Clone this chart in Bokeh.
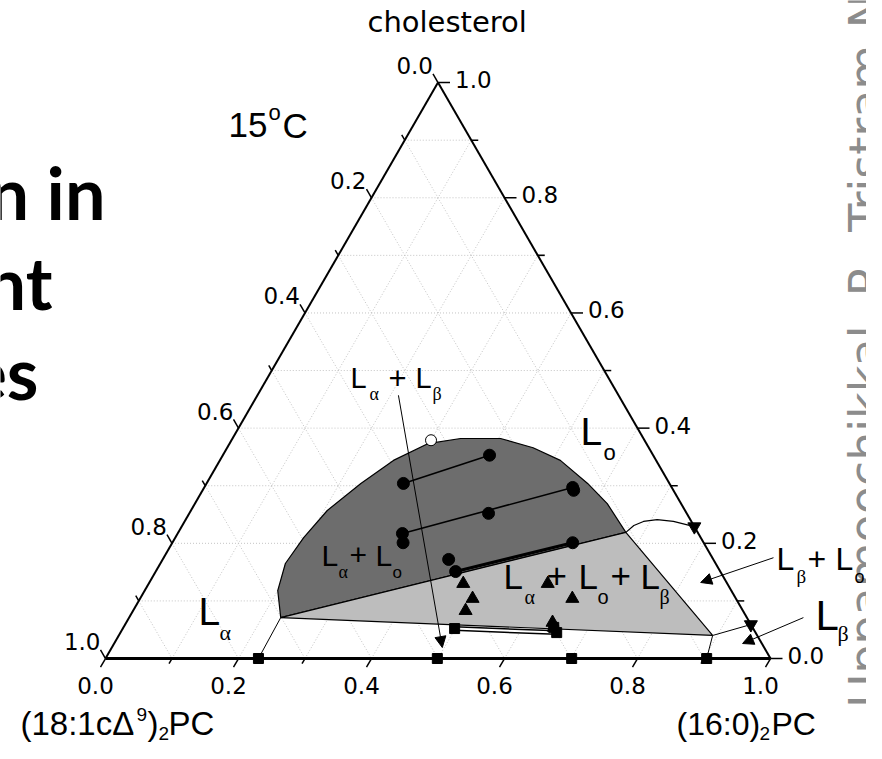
import numpy as np
from bokeh.plotting import figure
from bokeh.models import Range1d, Arrow, NormalHead, ColumnDataSource
from bokeh.embed import file_html
from bokeh.resources import INLINE
from bokeh.core.properties import value

# ---------------- data: mole fractions (cholesterol, (16:0)2PC) ----------------
# La + Lo coexistence boundary (dark region), from lower 3-phase vertex over the dome to upper vertex
lalo_chol = [0.071, 0.118, 0.165, 0.210, 0.257, 0.304, 0.344, 0.373, 0.382, 0.382, 0.366, 0.344, 0.304, 0.269, 0.219]
lalo_dppc = [0.228, 0.200, 0.188, 0.193, 0.205, 0.232, 0.261, 0.298, 0.343, 0.403, 0.460, 0.512, 0.573, 0.620, 0.673]
# La + Lo + Lb three-phase triangle
three_chol = [0.071, 0.219, 0.040]
three_dppc = [0.228, 0.673, 0.893]
# Lb + Lo boundary curve
lblo_chol = [0.219, 0.231, 0.238, 0.241, 0.238, 0.229]
lblo_dppc = [0.673, 0.679, 0.690, 0.709, 0.735, 0.771]
# thin boundary lines (La + Lb region and Lb region)
bnd1_chol = [0.071, 0.0]
bnd1_dppc = [0.228, 0.230]
bnd2_chol = [0.040, 0.0]
bnd2_dppc = [0.893, 0.904]
bnd3_chol = [0.040, 0.059]
bnd3_dppc = [0.893, 0.941]
# tie lines
tie1_chol = [0.304, 0.353]
tie1_dppc = [0.296, 0.401]
tie2_chol = [0.217, 0.297]
tie2_dppc = [0.338, 0.554]
tie3_chol = [0.151, 0.201]
tie3_dppc = [0.451, 0.602]
# filled circles
circ_chol = [0.304, 0.353, 0.217, 0.201, 0.252, 0.297, 0.292, 0.151, 0.172, 0.201]
circ_dppc = [0.296, 0.401, 0.338, 0.347, 0.450, 0.554, 0.558, 0.451, 0.430, 0.602]
# open circle
open_chol = [0.379]
open_dppc = [0.300]
# filled up triangles
tri_chol = [0.130, 0.104, 0.083, 0.130, 0.104, 0.0625, 0.054]
tri_dppc = [0.473, 0.500, 0.500, 0.600, 0.650, 0.641, 0.647]
# down triangles on the PC/cholesterol edge
dtri_chol = [0.229, 0.059]
dtri_dppc = [0.771, 0.941]
# squares on the binary axis and near the La+Lb tie line
sq_chol = [0.0, 0.0, 0.0, 0.0, 0.052, 0.045, 0.054]
sq_dppc = [0.230, 0.499, 0.701, 0.904, 0.499, 0.656, 0.647]
dbl_chol = [0.052, 0.045]
dbl_dppc = [0.499, 0.656]
# label arrows (tail -> head)
arr_chol0 = [0.457, 0.175, 0.071]
arr_dppc0 = [0.212, 0.917, 1.014]
arr_chol1 = [0.019, 0.132, 0.026]
arr_dppc1 = [0.497, 0.829, 0.945]
# axis ticks
tick_vals = [round(0.1 * i, 1) for i in range(11)]
tick_labels = ["0.0", "0.2", "0.4", "0.6", "0.8", "1.0"]

H = np.sqrt(3) / 2
PX = 1 / 665.0
W, HT = 866, 743


def cart(chol, dppc):
    c = np.asarray(chol, dtype=float)
    d = np.asarray(dppc, dtype=float)
    return d + c / 2, c * H


def S(sx, sy):
    # picture pixel -> data coordinates (for text placement)
    return (sx - 105) * PX, (658 - sy) * PX


p = figure(width=W, height=HT,
           x_range=Range1d(-105 * PX, (W - 105) * PX),
           y_range=Range1d((658 - HT) * PX, 658 * PX),
           output_backend="svg", toolbar_location=None, min_border=0,
           x_axis_location=None, y_axis_location=None)
p.xgrid.visible = False
p.ygrid.visible = False
p.outline_line_color = None
p.background_fill_color = "white"
p.border_fill_color = "white"


def put(s, sx, sy, size, font="Liberation Sans", align="left", style="normal",
        color="black", angle=0.0):
    # sy is the baseline in picture pixels; convert to the em-box middle
    if angle == 0.0:
        x, y = S(sx, sy - 0.35 * size)
    else:
        x, y = S(sx - 0.35 * size, sy)
    p.text([x], [y], text=[s], text_font=value(font), text_font_size=f"{size}px",
           text_align=align, text_baseline="middle", text_font_style=style,
           text_color=color, angle=angle)


# cut-off citation on the right (drawn first so the chart labels lie on top)
put("Uppamoochikkal, P., Tristram-Nagle, S.", 882, 707, 46, "DejaVu Sans", "left", "normal",
    "#8c8c8c", np.pi / 2)

# ---------------- grid ----------------
gx, gy = [], []
for v in tick_vals[1:-1]:
    x, y = cart([v, v], [0, 1 - v]); gx.append(list(x)); gy.append(list(y))
    x, y = cart([0, 1 - v], [v, v]); gx.append(list(x)); gy.append(list(y))
    x, y = cart([1 - v, 0], [0, 1 - v]); gx.append(list(x)); gy.append(list(y))
p.multi_line(gx, gy, line_color="#c4c4c4", line_width=1, line_dash="1 2")

# ---------------- regions ----------------
x, y = cart(lalo_chol, lalo_dppc)
p.patch(x, y, fill_color="#6d6d6d", line_color="black", line_width=1.2)
x, y = cart(three_chol, three_dppc)
p.patch(x, y, fill_color="#bdbdbd", line_color="black", line_width=1.2)
x, y = cart(lblo_chol, lblo_dppc)
p.line(x, y, line_color="black", line_width=1.2)
for bc, bd in [(bnd1_chol, bnd1_dppc), (bnd2_chol, bnd2_dppc), (bnd3_chol, bnd3_dppc)]:
    x, y = cart(bc, bd)
    p.line(x, y, line_color="black", line_width=1)

# ---------------- triangle frame ----------------
x, y = cart([0, 0], [0, 1]); p.line(x, y, line_color="black", line_width=3)
x, y = cart([0, 1], [1, 0]); p.line(x, y, line_color="black", line_width=2)
x, y = cart([0, 1], [0, 0]); p.line(x, y, line_color="black", line_width=2)

# ---------------- ticks + labels ----------------
tx, ty = [], []
bl_x, bl_y, ll_x, ll_y, rl_x, rl_y, lab = [], [], [], [], [], [], []
for i, v in enumerate(tick_vals):
    major = (i % 2 == 0)
    L = (10 if major else 6) * PX
    bx, by = cart([0], [v])
    tx.append([bx[0], bx[0] - 0.5 * L]); ty.append([by[0], by[0] - H * L])
    lx, ly = cart([1 - v], [0])
    tx.append([lx[0], lx[0] - 0.5 * L]); ty.append([ly[0], ly[0] + H * L])
    Lr = (12 if major else 7) * PX
    rx, ry = cart([v], [1 - v])
    tx.append([rx[0], rx[0] + Lr]); ty.append([ry[0], ry[0]])
    if major:
        lab.append(tick_labels[i // 2])
        bl_x.append(bx[0] - 10 * PX); bl_y.append(by[0] - 27 * PX)
        ll_x.append(lx[0] - 5 * PX); ll_y.append(ly[0] + 17 * PX)
        rl_x.append(rx[0] + 17 * PX); rl_y.append(ry[0] + 3 * PX)
p.multi_line(tx, ty, line_color="black", line_width=1.5)
F = value("DejaVu Sans")
for xs, ys, al in [(bl_x, bl_y, "center"), (ll_x, ll_y, "right"), (rl_x, rl_y, "left")]:
    p.text(xs, ys, text=lab, text_font=F, text_font_size="23px", text_align=al,
           text_baseline="middle")

# ---------------- tie lines & markers ----------------
x, y = cart(tie1_chol, tie1_dppc); p.line(x, y, line_color="black", line_width=1.6)
x, y = cart(tie2_chol, tie2_dppc); p.line(x, y, line_color="black", line_width=1.6)
x, y = cart(tie3_chol, tie3_dppc); p.line(x, y, line_color="black", line_width=3)
x, y = cart(dbl_chol, dbl_dppc)
p.line(x, y, line_color="black", line_width=5)
p.line(x, y, line_color="white", line_width=2)

x, y = cart(circ_chol, circ_dppc)
p.scatter(x, y, marker="circle", size=12, fill_color="black", line_color="black")
x, y = cart(open_chol, open_dppc)
p.scatter(x, y, marker="circle", size=11, fill_color="white", line_color="black", line_width=1)
x, y = cart(tri_chol, tri_dppc)
p.scatter(x, y, marker="triangle", size=13, fill_color="black", line_color="black")
x, y = cart(dtri_chol, dtri_dppc)
p.scatter(x, y, marker="inverted_triangle", size=13, fill_color="black", line_color="black")
x, y = cart(sq_chol, sq_dppc)
p.scatter(x, y, marker="square", size=10, fill_color="black", line_color="black")

x0, y0 = cart(arr_chol0, arr_dppc0)
x1, y1 = cart(arr_chol1, arr_dppc1)
asrc = ColumnDataSource(dict(x0=x0, y0=y0, x1=x1, y1=y1))
p.add_layout(Arrow(end=NormalHead(size=11, fill_color="black", line_color="black", line_width=1),
                   x_start="x0", y_start="y0", x_end="x1", y_end="y1", source=asrc,
                   line_color="black", line_width=1))

# ---------------- texts ----------------
G = "Liberation Serif"
put("cholesterol", 367, 32, 29, "DejaVu Sans")
put("15", 228, 137, 35); put("o", 268, 120, 22); put("C", 282, 137, 35)

put("L", 350, 388, 29); put("\u03b1", 369, 400, 18, G); put("+", 388, 388, 31)
put("L", 415, 388, 29); put("\u03b2", 432, 400, 18, G)

put("L", 580, 445, 39); put("o", 603, 460, 22)

put("L", 321, 565, 30); put("\u03b1", 338, 578, 18, G); put("+", 349, 565, 30)
put("L", 375, 565, 30); put("o", 392, 578, 17)

put("L", 503, 588, 35); put("\u03b1", 524, 603, 20, G); put("+", 546, 588, 35)
put("L", 578, 588, 35); put("o", 597, 603, 20); put("+", 610, 588, 35)
put("L", 640, 588, 35); put("\u03b2", 659, 603, 20, G)

put("L", 776, 570, 32); put("\u03b2", 796, 583, 19, G); put("+", 807, 570, 32)
put("L", 835, 570, 32); put("o", 854, 583, 18)

put("L", 815, 630, 42); put("\u03b2", 837, 641, 22, G)
put("L", 198, 625, 39); put("\u03b1", 219, 640, 22, G)

put("(18:1c\u0394", 20, 735, 33); put("9", 136, 721, 19); put(")", 147, 735, 33)
put("2", 158, 740, 19); put("PC", 168, 735, 33)
put("(16:0)", 676, 735, 32); put("2", 759, 740, 19); put("PC", 771, 735, 32)

# cut-off slide title on the left
put("n in", 105, 217, 72, "Lato", "right", "bold")
put("nt", 52, 307, 72, "Lato", "right", "bold")
put("es", 38, 397, 72, "Lato", "right", "bold")

open("out.html", "w").write(file_html(p, INLINE))
